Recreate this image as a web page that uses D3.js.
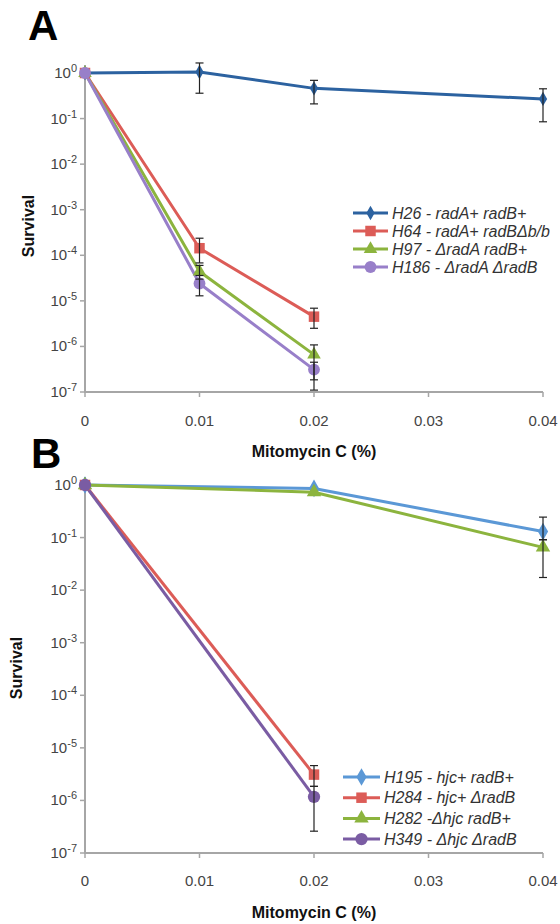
<!DOCTYPE html>
<html><head><meta charset="utf-8">
<script src="https://cdn.jsdelivr.net/npm/d3@7"></script>
<style>
html,body{margin:0;padding:0;background:#fff;}
svg{display:block;font-family:"Liberation Sans",Arial,sans-serif;}
</style></head>
<body>
<svg id="chart" width="560" height="924"></svg>
<script>
// ---------- data ----------
const doseTicks = [0, 0.01, 0.02, 0.03, 0.04];
const doseTickLabels = ["0", "0.01", "0.02", "0.03", "0.04"];
const survivalExponents = [0, -1, -2, -3, -4, -5, -6, -7];

// Panel A
const dosesA = [0, 0.01, 0.02, 0.04];
const namesA = ["H26 - radA+ radB+", "H64 - radA+ radB\u0394b/b", "H97 - \u0394radA  radB+", "H186 - \u0394radA  \u0394radB"];
const h26 = [1.0, 1.05, 0.46, 0.27];
const h26Lo = [null, 0.36, 0.21, 0.085];
const h26Hi = [null, 1.66, 0.69, 0.45];
const h64 = [1.0, 1.43e-4, 4.5e-6];
const h64Lo = [null, 6.8e-5, 2.5e-6];
const h64Hi = [null, 2.37e-4, 6.9e-6];
const h97 = [1.0, 4.4e-5, 6.6e-7];
const h97Lo = [null, 3.0e-5, 1.85e-7];
const h97Hi = [null, 6.0e-5, 1.08e-6];
const h186 = [1.0, 2.4e-5, 3.1e-7];
const h186Lo = [null, 1.29e-5, 1.1e-7];
const h186Hi = [null, 3.6e-5, 4.5e-7];

// Panel B
const dosesB = [0, 0.02, 0.04];
const namesB = ["H195 - hjc+ radB+", "H284 - hjc+ \u0394radB", "H282 -\u0394hjc radB+", "H349 - \u0394hjc \u0394radB"];
const h195 = [1.0, 0.86, 0.13];
const h195Lo = [null, null, 0.091];
const h195Hi = [null, null, 0.245];
const h284 = [1.0, 3.1e-6];
const h284Lo = [null, 1.85e-6];
const h284Hi = [null, 4.6e-6];
const h282 = [1.0, 0.73, 0.065];
const h282Lo = [null, null, 0.0174];
const h282Hi = [null, null, 0.091];
const h349 = [1.0, 1.17e-6];
const h349Lo = [null, 2.6e-7];
const h349Hi = [null, 1.85e-6];

// ---------- drawing ----------
const svg = d3.select("#chart");
const FONT = "'Liberation Sans', Arial, sans-serif";

function symbolFor(kind, size) {
  const t = {diamond: d3.symbolDiamond, square: d3.symbolSquare, triangle: d3.symbolTriangle, circle: d3.symbolCircle}[kind];
  return d3.symbol().type(t).size(size)();
}

function drawPanel(cfg) {
  const g = svg.append("g");
  const x = d3.scaleLinear().domain([0, 0.04]).range([cfg.x0, cfg.x1]);
  const y = d3.scaleLog().domain([1e-7, 1]).range([cfg.yBottom, cfg.yTop]);

  // axes
  const axisColor = "#a6a6a6";
  g.append("line").attr("x1", x(0)).attr("x2", x(0)).attr("y1", cfg.yTop - 8).attr("y2", y(1e-7))
    .attr("stroke", axisColor).attr("stroke-width", 2);
  g.append("line").attr("x1", x(0) - 1).attr("x2", x(0.04)).attr("y1", y(1e-7)).attr("y2", y(1e-7))
    .attr("stroke", axisColor).attr("stroke-width", 2);

  // y ticks
  survivalExponents.forEach(e => {
    const yy = y(Math.pow(10, e));
    g.append("line").attr("x1", x(0) - 5).attr("x2", x(0)).attr("y1", yy).attr("y2", yy)
      .attr("stroke", axisColor).attr("stroke-width", 1.5);
    const t = g.append("text").attr("x", x(0) - 8).attr("y", yy + 5).attr("text-anchor", "end")
      .attr("fill", "#444").style("font-size", "15px").style("font-family", FONT);
    t.append("tspan").text("10");
    t.append("tspan").attr("dy", -6).style("font-size", "11px").text(e === 0 ? "0" : "-" + Math.abs(e));
  });
  // x ticks
  doseTicks.forEach((d, i) => {
    const xx = x(d);
    g.append("line").attr("x1", xx).attr("x2", xx).attr("y1", y(1e-7)).attr("y2", y(1e-7) + 5)
      .attr("stroke", axisColor).attr("stroke-width", 1.5);
    g.append("text").attr("x", xx).attr("y", cfg.xLabelY).attr("text-anchor", "middle")
      .attr("fill", "#444").style("font-size", "15px").style("font-family", FONT).text(doseTickLabels[i]);
  });
  // axis titles
  g.append("text").attr("x", x(0.02)).attr("y", cfg.xTitleY).attr("text-anchor", "middle")
    .style("font-size", "16px").style("font-weight", "bold").style("font-family", FONT).attr("fill", "#111")
    .text("Mitomycin C (%)");
  g.append("text").attr("transform", `translate(${cfg.yTitleX},${cfg.yTitleY}) rotate(-90)`)
    .attr("text-anchor", "middle")
    .style("font-size", "16px").style("font-weight", "bold").style("font-family", FONT).attr("fill", "#111")
    .text("Survival");
  // panel letter
  g.append("text").attr("x", cfg.letterX).attr("y", cfg.letterY)
    .style("font-size", "42px").style("font-weight", "bold").style("font-family", FONT).attr("fill", "#000")
    .text(cfg.letter);

  const line = d3.line().x(d => x(d[0])).y(d => y(d[1]));
  // series lines
  cfg.series.forEach(s => {
    const pts = s.values.map((v, i) => [cfg.doses[i], v]);
    g.append("path").attr("d", line(pts)).attr("fill", "none").attr("stroke", s.color)
      .attr("stroke-width", 3).attr("stroke-linejoin", "round");
  });
  // markers
  cfg.series.forEach(s => {
    s.values.forEach((v, i) => {
      g.append("path").attr("d", symbolFor(s.marker, s.msize))
        .attr("transform", `translate(${x(cfg.doses[i])},${y(v)})`).attr("fill", s.color);
    });
  });
  // error bars
  cfg.series.forEach(s => {
    s.values.forEach((v, i) => {
      const lo = s.lo[i], hi = s.hi[i];
      if (lo == null || hi == null) return;
      const xx = x(cfg.doses[i]);
      const y1 = y(hi), y2 = y(lo);
      g.append("line").attr("x1", xx).attr("x2", xx).attr("y1", y1).attr("y2", y2).attr("stroke", "#222").attr("stroke-width", 1.2);
      [y1, y2].forEach(yy => g.append("line").attr("x1", xx - 4).attr("x2", xx + 4).attr("y1", yy).attr("y2", yy)
        .attr("stroke", "#222").attr("stroke-width", 1.2));
    });
  });

  // legend
  cfg.series.forEach((s, i) => {
    const ly = cfg.legY + i * cfg.legDy;
    g.append("line").attr("x1", cfg.legX0).attr("x2", cfg.legX1).attr("y1", ly).attr("y2", ly)
      .attr("stroke", s.color).attr("stroke-width", 3);
    g.append("path").attr("d", symbolFor(s.marker, s.msize))
      .attr("transform", `translate(${(cfg.legX0 + cfg.legX1) / 2},${ly})`).attr("fill", s.color);
    g.append("text").attr("x", cfg.legX1 + 4).attr("y", ly + 5.5)
      .style("font-size", "16px").style("font-style", "italic").style("font-family", FONT).attr("fill", "#333")
      .text(s.name);
  });
}

drawPanel({
  letter: "A", letterX: 28, letterY: 40,
  x0: 85, x1: 543, yTop: 73, yBottom: 392,
  xLabelY: 426, xTitleY: 457, yTitleX: 34, yTitleY: 226,
  doses: dosesA,
  legX0: 353, legX1: 388, legY: 213, legDy: 18,
  series: [
    {name: namesA[0], values: h26, lo: h26Lo, hi: h26Hi, color: "#2c62a0", marker: "diamond", msize: 60},
    {name: namesA[1], values: h64, lo: h64Lo, hi: h64Hi, color: "#dc5c57", marker: "square", msize: 110},
    {name: namesA[2], values: h97, lo: h97Lo, hi: h97Hi, color: "#8cb43e", marker: "triangle", msize: 80},
    {name: namesA[3], values: h186, lo: h186Lo, hi: h186Hi, color: "#987fc9", marker: "circle", msize: 110}
  ]
});

drawPanel({
  letter: "B", letterX: 31, letterY: 468,
  x0: 85, x1: 543, yTop: 485, yBottom: 853,
  xLabelY: 886, xTitleY: 918, yTitleX: 22, yTitleY: 668,
  doses: dosesB,
  legX0: 343, legX1: 380, legY: 777, legDy: 20.7,
  series: [
    {name: namesB[0], values: h195, lo: h195Lo, hi: h195Hi, color: "#5b98d6", marker: "diamond", msize: 90},
    {name: namesB[1], values: h284, lo: h284Lo, hi: h284Hi, color: "#dc5c57", marker: "square", msize: 110},
    {name: namesB[2], values: h282, lo: h282Lo, hi: h282Hi, color: "#8cb43e", marker: "triangle", msize: 90},
    {name: namesB[3], values: h349, lo: h349Lo, hi: h349Hi, color: "#7a5ca3", marker: "circle", msize: 120}
  ]
});
</script>
</body></html>
